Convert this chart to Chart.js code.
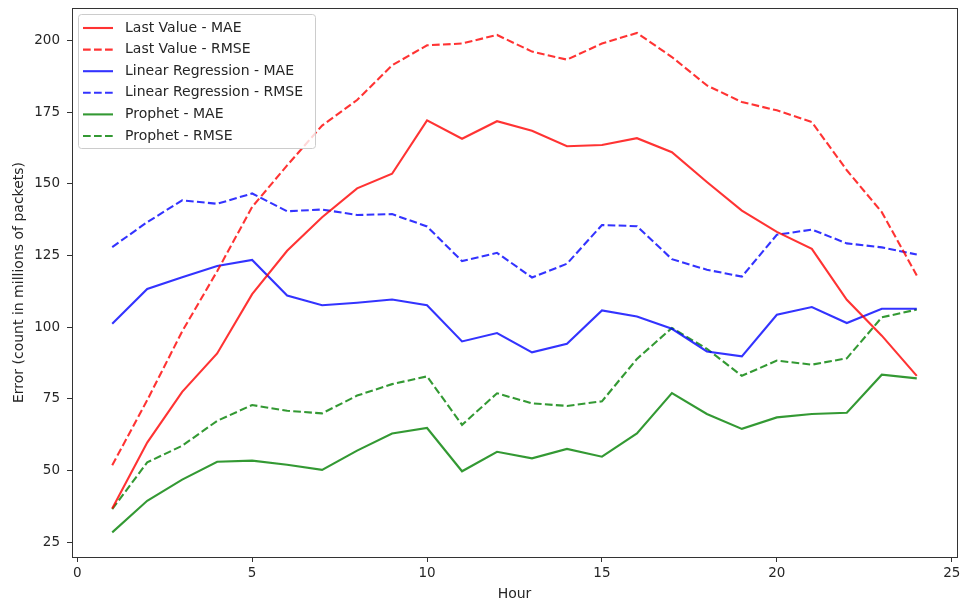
<!DOCTYPE html>
<html>
<head>
<meta charset="utf-8">
<script src="https://cdn.jsdelivr.net/npm/chart.js@4"></script>
<style>
  html, body { margin: 0; padding: 0; background: #fff; }
  #wrap { width: 962px; height: 604px; }
</style>
</head>
<body>
<div id="wrap"><canvas id="errChart" width="962" height="604"></canvas></div>
<script>
const hours = [1, 2, 3, 4, 5, 6, 7, 8, 9, 10, 11, 12, 13, 14, 15, 16, 17, 18, 19, 20, 21, 22, 23, 24];

const lastValueMae = [36.7, 59.7, 77.4, 90.8, 111.5, 126.6, 138.3, 148.4, 153.5, 172.1, 165.7, 171.8, 168.5, 163.1, 163.5, 165.9, 161.0, 150.6, 140.6, 133.2, 127.3, 109.5, 97.0, 83.0];
const lastValueRmse = [51.8, 74.5, 98.5, 119.5, 141.9, 156.4, 170.3, 179.2, 191.3, 198.3, 198.9, 201.9, 196.1, 193.3, 198.9, 202.6, 194.2, 184.3, 178.5, 175.6, 171.5, 154.7, 140.1, 118.0];
const linRegMae = [101.2, 113.3, 117.4, 121.3, 123.4, 111.0, 107.6, 108.5, 109.6, 107.6, 95.0, 97.9, 91.2, 94.2, 105.8, 103.7, 99.4, 91.5, 89.8, 104.3, 107.0, 101.4, 106.4, 106.4];
const linRegRmse = [127.9, 136.6, 144.2, 143.0, 146.6, 140.4, 141.0, 139.1, 139.4, 135.1, 123.0, 125.9, 117.3, 122.1, 135.6, 135.2, 123.7, 120.0, 117.6, 132.2, 134.0, 129.2, 127.8, 125.3];
const prophetMae = [28.4, 39.4, 46.8, 53.0, 53.4, 52.0, 50.2, 56.9, 62.9, 64.8, 49.7, 56.5, 54.2, 57.5, 54.8, 62.9, 77.0, 69.7, 64.5, 68.5, 69.7, 70.1, 83.4, 82.1];
const prophetRmse = [36.5, 52.8, 58.6, 67.3, 72.8, 70.8, 69.9, 76.1, 80.1, 82.8, 65.9, 76.9, 73.4, 72.5, 74.1, 88.9, 99.7, 92.4, 83.0, 88.3, 86.9, 89.1, 103.4, 106.1];

const xTicks = [0, 5, 10, 15, 20, 25];
const yTicks = [25, 50, 75, 100, 125, 150, 175, 200];

const RED = "rgba(255,0,0,0.8)";
const BLUE = "rgba(0,0,255,0.8)";
const GREEN = "rgba(0,128,0,0.8)";
const DASH = [7.7, 3.3];
const FONT = "'DejaVu Sans', sans-serif";
const INK = "#262626";

function series(label, values, color, dashed) {
    return {
        label,
        data: hours.map((h, i) => ({ x: h, y: values[i] })),
        borderColor: color,
        backgroundColor: color,
        borderWidth: 2.1,
        borderDash: dashed ? DASH : [],
        pointRadius: 0,
        tension: 0,
        fill: false
    };
}

// full box around the plot, like matplotlib spines
const frame = {
    id: "frame",
    afterDatasetsDraw(chart) {
        const { ctx, chartArea: a } = chart;
        ctx.save();
        ctx.strokeStyle = "#333";
        ctx.lineWidth = 1;
        ctx.strokeRect(Math.round(a.left) + 0.5, Math.round(a.top) + 0.5,
            Math.round(a.right - a.left), Math.round(a.bottom - a.top));
        ctx.restore();
    }
};

// legend drawn inside the plot, upper left
const innerLegend = {
    id: "innerLegend",
    afterDraw(chart) {
        const { ctx, chartArea: a } = chart;
        const sets = chart.data.datasets;
        const x0 = a.left + 6, y0 = a.top + 6, w = 237, h = 134, r = 3;
        ctx.save();
        ctx.beginPath();
        ctx.roundRect(x0 + 0.5, y0 + 0.5, w, h, r);
        ctx.fillStyle = "rgba(255,255,255,0.8)";
        ctx.fill();
        ctx.strokeStyle = "#cccccc";
        ctx.lineWidth = 1;
        ctx.stroke();
        ctx.font = "14px " + FONT;
        ctx.textBaseline = "middle";
        sets.forEach((ds, i) => {
            const y = y0 + 14 + i * 21.6;
            ctx.beginPath();
            ctx.setLineDash(ds.borderDash);
            ctx.strokeStyle = ds.borderColor;
            ctx.lineWidth = ds.borderWidth;
            ctx.moveTo(x0 + 5, y);
            ctx.lineTo(x0 + 35, y);
            ctx.stroke();
            ctx.setLineDash([]);
            ctx.fillStyle = INK;
            ctx.fillText(ds.label, x0 + 47, y);
        });
        ctx.restore();
    }
};

new Chart(document.getElementById("errChart").getContext("2d"), {
    type: "line",
    data: {
        datasets: [
            series("Last Value - MAE", lastValueMae, RED, false),
            series("Last Value - RMSE", lastValueRmse, RED, true),
            series("Linear Regression - MAE", linRegMae, BLUE, false),
            series("Linear Regression - RMSE", linRegRmse, BLUE, true),
            series("Prophet - MAE", prophetMae, GREEN, false),
            series("Prophet - RMSE", prophetRmse, GREEN, true)
        ]
    },
    options: {
        responsive: false,
        animation: false,
        layout: { padding: { top: 8, right: 5, left: 0, bottom: 0 } },
        scales: {
            x: {
                type: "linear",
                min: -0.15,
                max: 25.15,
                afterBuildTicks: s => { s.ticks = xTicks.map(v => ({ value: v })); },
                afterFit: s => { s.height = 47; s.paddingLeft = 0; s.paddingRight = 0; },
                ticks: { color: INK, font: { family: FONT, size: 13.5 }, padding: 3, maxRotation: 0 },
                grid: { drawOnChartArea: false, drawTicks: true, tickLength: 5, color: "#333" },
                border: { display: true, color: "#333" },
                title: { display: true, text: "Hour", color: INK, font: { family: FONT, size: 14 }, padding: { top: 0, bottom: 1 } }
            },
            y: {
                type: "linear",
                min: 19.8,
                max: 211.3,
                afterBuildTicks: s => { s.ticks = yTicks.map(v => ({ value: v })); },
                afterFit: s => { s.width = 72; s.paddingTop = 0; s.paddingBottom = 0; },
                ticks: { color: INK, font: { family: FONT, size: 13.5 }, padding: 7 },
                grid: { drawOnChartArea: false, drawTicks: true, tickLength: 5, color: "#333" },
                border: { display: true, color: "#333" },
                title: { display: true, text: "Error (count in millions of packets)", color: INK, font: { family: FONT, size: 14 }, padding: { top: 11, bottom: 0 } }
            }
        },
        plugins: {
            legend: { display: false },
            tooltip: { enabled: false }
        }
    },
    plugins: [frame, innerLegend]
});
</script>
</body>
</html>
